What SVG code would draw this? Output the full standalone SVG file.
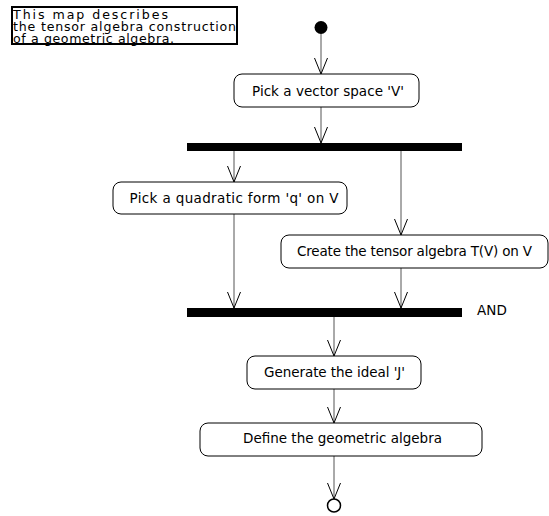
<svg xmlns="http://www.w3.org/2000/svg" width="549" height="516" viewBox="0 0 549 516">
<defs>
<style>
text{font-family:"DejaVu Sans",Verdana,sans-serif;font-size:13.5px;fill:#000}
.n{font-size:12.6px}
.act{fill:#fff;stroke:#000;stroke-width:1}
.bar{fill:#000}
.edge{stroke:#555;stroke-width:1;fill:none}
.ah{stroke:#000;stroke-width:1;fill:none}
</style>
</defs>
<rect width="549" height="516" fill="#fff"/>
<g id="note">
<rect x="12" y="7" width="225" height="37" fill="#fff" stroke="#000" stroke-width="2"/>
<text class="n" x="13" y="19" textLength="155" lengthAdjust="spacing">This map describes</text>
<text class="n" x="13" y="31" textLength="223" lengthAdjust="spacing">the tensor algebra construction</text>
<text class="n" x="13" y="43" textLength="161" lengthAdjust="spacing">of a geometric algebra.</text>
</g>
<g id="connectors">
<path class="edge" d="M321,34V74"/><path class="ah" d="M314.5,58L321,74L327.5,58"/>
<path class="edge" d="M321,107V143"/><path class="ah" d="M314.5,127L321,143L327.5,127"/>
<path class="edge" d="M234,151V182"/><path class="ah" d="M227.5,166L234,182L240.5,166"/>
<path class="edge" d="M401,151V235"/><path class="ah" d="M394.5,219L401,235L407.5,219"/>
<path class="edge" d="M234,214V308"/><path class="ah" d="M227.5,292L234,308L240.5,292"/>
<path class="edge" d="M401,268V308"/><path class="ah" d="M394.5,292L401,308L407.5,292"/>
<path class="edge" d="M334,317V356"/><path class="ah" d="M327.5,340L334,356L340.5,340"/>
<path class="edge" d="M334,389V423"/><path class="ah" d="M327.5,407L334,423L340.5,407"/>
<path class="edge" d="M334,456V499"/><path class="ah" d="M327.5,483L334,499L340.5,483"/>
</g>
<g id="start"><circle cx="321" cy="27.5" r="6.5" fill="#000"/></g>
<g id="pickV"><rect class="act" x="234" y="74" width="185" height="33" rx="8"/><text x="252" y="95.5" textLength="152" lengthAdjust="spacing">Pick a vector space 'V'</text></g>
<g id="fork"><rect class="bar" x="187" y="143" width="275" height="8"/></g>
<g id="pickQ"><rect class="act" x="113" y="182" width="234" height="32" rx="8"/><text x="129.5" y="203" textLength="209" lengthAdjust="spacing">Pick a quadratic form 'q' on V</text></g>
<g id="tensor"><rect class="act" x="281" y="235" width="267" height="33" rx="8"/><text x="297" y="256" textLength="235" lengthAdjust="spacing">Create the tensor algebra T(V) on V</text></g>
<g id="join"><rect class="bar" x="187" y="308" width="275" height="9"/><text x="477" y="315" textLength="30" lengthAdjust="spacing">AND</text></g>
<g id="ideal"><rect class="act" x="247" y="356" width="174" height="33" rx="8"/><text x="264" y="376.5" textLength="141" lengthAdjust="spacing">Generate the ideal 'J'</text></g>
<g id="define"><rect class="act" x="200" y="423" width="282" height="33" rx="8"/><text x="243" y="442.5" textLength="199" lengthAdjust="spacing">Define the geometric algebra</text></g>
<g id="end"><circle cx="334" cy="505.5" r="6.5" fill="#fff" stroke="#000" stroke-width="1.5"/></g>
</svg>
